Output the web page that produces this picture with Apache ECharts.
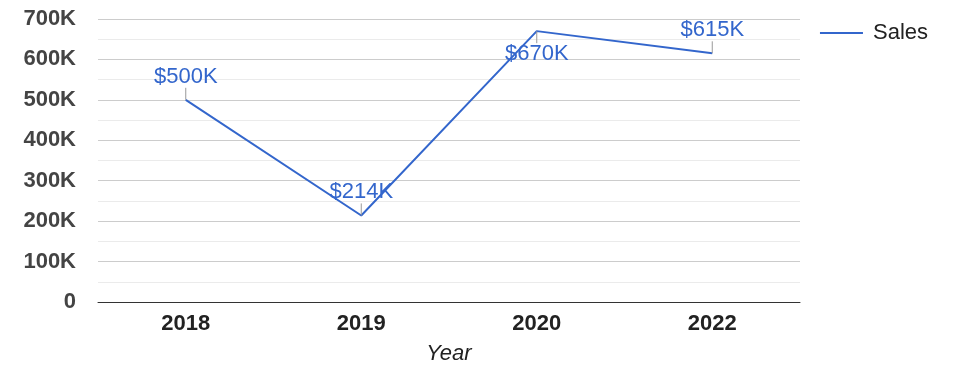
<!DOCTYPE html>
<html>
<head>
<meta charset="utf-8">
<script src="https://cdn.jsdelivr.net/npm/echarts@6/dist/echarts.min.js"></script>
<style>
  html, body { margin: 0; padding: 0; background: #fff; }
  #main { width: 975px; height: 378px; }
</style>
</head>
<body>
<div id="main"></div>
<script>
// data
var years = ['2018', '2019', '2020', '2022'];
var sales = [500000, 214000, 670000, 615000];
var salesLabels = ['$500K', '$214K', '$670K', '$615K'];

var FONT = '"Liberation Sans", Arial, sans-serif';
var BLUE = '#3366cc';

var myChart = echarts.init(document.getElementById('main'));

// the 2020 label sits under the peak, the others sit above
var points = sales.map(function (v, i) {
    var below = v === Math.max.apply(null, sales);
    return {
        value: v,
        label: { position: below ? 'bottom' : 'top' }
    };
});

myChart.setOption({
    animation: false,
    textStyle: { fontFamily: FONT },
    grid: { left: 98, right: 175, top: 19, bottom: 76, containLabel: false },
    legend: {
        right: 42,
        top: 17,
        itemWidth: 43,
        itemHeight: 2,
        icon: 'rect',
        textStyle: { fontSize: 22, color: '#222', fontFamily: FONT, padding: [0, 0, 0, 5] },
        data: ['Sales']
    },
    xAxis: {
        type: 'category',
        data: years,
        name: 'Year',
        nameLocation: 'middle',
        nameGap: 41,
        nameTextStyle: { fontSize: 22, fontStyle: 'italic', color: '#222', fontFamily: FONT },
        axisLine: { lineStyle: { color: '#333', width: 1 } },
        axisTick: { show: false },
        axisLabel: { fontSize: 22, fontWeight: 'bold', color: '#222', margin: 11, fontFamily: FONT }
    },
    yAxis: {
        type: 'value',
        min: 0,
        max: 700000,
        interval: 100000,
        axisLine: { show: false },
        axisTick: { show: false },
        axisLabel: {
            fontSize: 22, fontWeight: 'bold', color: '#444', margin: 22, fontFamily: FONT,
            formatter: function (v) { return v === 0 ? '0' : (v / 1000) + 'K'; }
        },
        splitLine: { lineStyle: { color: '#cccccc', width: 1 } },
        minorTick: { show: false, splitNumber: 2 },
        minorSplitLine: { show: true, lineStyle: { color: '#ebebeb', width: 1 } }
    },
    series: [{
        name: 'Sales',
        type: 'line',
        data: points,
        symbol: 'circle',
        symbolSize: 0.1,
        color: BLUE,
        lineStyle: { color: BLUE, width: 2 },
        itemStyle: { color: BLUE },
        label: {
            show: true,
            fontSize: 22,
            color: BLUE,
            distance: 2,
            fontFamily: FONT,
            formatter: function (p) { return salesLabels[p.dataIndex]; }
        },
        labelLine: { show: true, lineStyle: { color: '#999', width: 1 } },
        labelLayout: function (p) {
            var below = sales[p.dataIndex] === Math.max.apply(null, sales);
            return { dy: below ? 10 : -10 };
        }
    }]
});
</script>
</body>
</html>
